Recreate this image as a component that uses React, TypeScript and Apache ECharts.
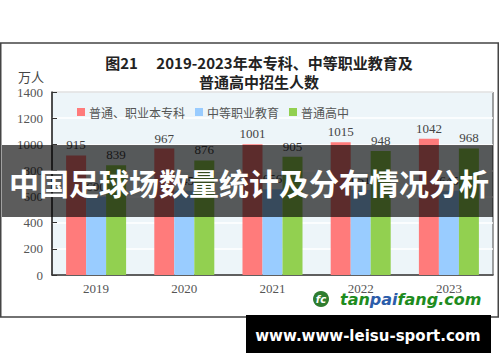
import React, { useEffect, useRef } from "react";
import * as echarts from "echarts";

const years = ["2019", "2020", "2021", "2022", "2023"];
const seriesNames = ["普通、职业本专科", "中等职业教育", "普通高中"];
const higherEd = [915, 967, 1001, 1015, 1042];
const vocational = [600, 645, 656, 651, 645];
const highSchool = [839, 876, 905, 948, 968];
const colors = ["#FF7B7B", "#99CCFF", "#92D050"];

const serif = "'Liberation Serif', 'Noto Sans CJK SC', serif";
const cjk = "'Noto Sans CJK SC', sans-serif";

export default function App() {
  const ref = useRef<HTMLDivElement>(null);
  useEffect(() => {
    if (!ref.current) return;
    const chart = echarts.init(ref.current, undefined, { renderer: "svg" });
    const data = [higherEd, vocational, highSchool];
    chart.setOption({
      animation: false,
      backgroundColor: "#ffffff",
      title: {
        text: "图21　 2019-2023年本专科、中等职业教育及\n普通高中招生人数",
        left: 254,
        top: 48,
        textAlign: "center",
        textStyle: {
          fontFamily: cjk,
          fontSize: 15,
          fontWeight: "bold",
          color: "#222",
          lineHeight: 19,
        },
      },
      legend: {
        data: seriesNames,
        left: 72,
        top: 101,
        icon: "rect",
        itemWidth: 8,
        itemHeight: 8,
        itemGap: 10,
        textStyle: { fontFamily: cjk, fontSize: 12, color: "#555", padding: [0, 0, 0, -1] },
      },
      grid: {
        left: 52,
        right: 7,
        top: 92,
        bottom: 87,
        show: true,
        backgroundColor: "#EDF5F9",
        borderColor: "#444",
        borderWidth: 1,
      },
      xAxis: {
        type: "category",
        data: years,
        axisLine: { lineStyle: { color: "#333", width: 1.5 } },
        axisTick: { inside: true, length: 5, lineStyle: { color: "#333" } },
        axisLabel: { fontFamily: serif, fontSize: 13, color: "#555", margin: 7 },
      },
      yAxis: {
        type: "value",
        min: 0,
        max: 1400,
        interval: 200,
        axisLine: { show: true, lineStyle: { color: "#333", width: 1.5 } },
        axisTick: { show: true, inside: true, length: 5, lineStyle: { color: "#333" } },
        axisLabel: {
          fontFamily: serif,
          fontSize: 13,
          color: "#555",
          margin: 9,
          formatter: (v: number) => String(v),
        },
        splitLine: { lineStyle: { color: "#ffffff", width: 1.5 } },
      },
      series: seriesNames.map((name, i) => ({
        name,
        type: "bar",
        data: data[i],
        barWidth: 20,
        barGap: "0%",
        itemStyle: { color: colors[i] },
        label: {
          show: true,
          position: "top",
          distance: 4,
          fontFamily: serif,
          fontSize: 13,
          color: "#444",
        },
      })),
      graphic: [
        {
          type: "rect",
          shape: { x: 0.75, y: 43, width: 497.5, height: 274 },
          style: { fill: "none", stroke: "#444", lineWidth: 1.5 },
          silent: true,
        },
        {
          type: "text",
          x: 31,
          y: 76,
          style: {
            text: "万人",
            fontFamily: cjk,
            fontSize: 13,
            fill: "#444",
            textAlign: "center",
            textVerticalAlign: "middle",
          },
        },
        {
          type: "rect",
          z: 100,
          shape: { x: 2, y: 145, width: 491, height: 72 },
          style: { fill: "rgba(0,0,0,0.64)" },
        },
        {
          type: "text",
          z: 101,
          x: 249,
          y: 182,
          style: {
            text: "中国足球场数量统计及分布情况分析",
            fontFamily: cjk,
            fontWeight: "bold",
            fontSize: 30,
            fill: "#ffffff",
            textAlign: "center",
            textVerticalAlign: "middle",
          },
        },
        {
          type: "circle",
          z: 100,
          shape: { cx: 321, cy: 299, r: 8 },
          style: { fill: "#2F7D2F" },
        },
        {
          type: "text",
          z: 101,
          x: 321,
          y: 299,
          style: {
            text: "fc",
            fontFamily: "'DejaVu Sans', sans-serif",
            fontWeight: "bold",
            fontStyle: "italic",
            fontSize: 10,
            fill: "#ffffff",
            textAlign: "center",
            textVerticalAlign: "middle",
          },
        },
        {
          type: "text",
          z: 100,
          x: 340,
          y: 299,
          style: {
            text: "{g|tan}{b|pai}{g|fang.com}",
            textVerticalAlign: "middle",
            rich: {
              g: {
                fontFamily: "'DejaVu Sans', sans-serif",
                fontWeight: "bold",
                fontStyle: "italic",
                fontSize: 16,
                fill: "#1E8C1E",
              },
              b: {
                fontFamily: "'DejaVu Sans', sans-serif",
                fontWeight: "bold",
                fontStyle: "italic",
                fontSize: 16,
                fill: "#2C5DAA",
              },
            },
          },
        },
        {
          type: "rect",
          z: 100,
          shape: { x: 246, y: 315, width: 245, height: 38 },
          style: { fill: "#000000" },
        },
        {
          type: "text",
          z: 101,
          x: 368,
          y: 336,
          style: {
            text: "www.www-leisu-sport.com",
            fontFamily: "'DejaVu Sans', sans-serif",
            fontWeight: "bold",
            fontSize: 15,
            fill: "#ffffff",
            textAlign: "center",
            textVerticalAlign: "middle",
          },
        },
      ],
    });
    return () => chart.dispose();
  }, []);
  return (
    <div
      ref={ref}
      style={{ position: "fixed", left: 0, top: 0, width: 500, height: 362 }}
    />
  );
}
